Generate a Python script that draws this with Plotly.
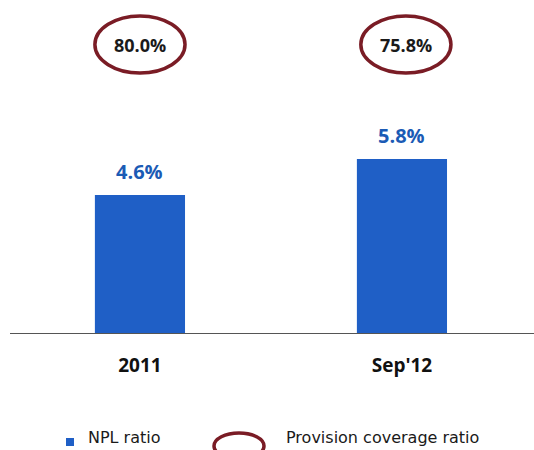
import plotly.graph_objects as go

categories = ["2011", "Sep'12"]
npl_ratio = [4.6, 5.8]
coverage_ratio = [80.0, 75.8]

BLUE = "#1F5FC6"
LABEL_BLUE = "#1B5BB5"
RED = "#7A1C25"
FONT = "Open Sans"
LEG_FONT = "DejaVu Sans"

W, H = 534, 450
ML, MR, MT, MB = 10, 0, 0, 117
PW = W - ML - MR
PH = H - MT - MB

def px_x(px):
    return (px - ML) / PW

def px_y(py):
    return (H - MB - py) / PH

fig = go.Figure()
fig.add_trace(go.Bar(
    x=categories, y=npl_ratio, width=0.344,
    marker=dict(color=BLUE, line=dict(width=0)),
    showlegend=False, hoverinfo="skip",
))

annotations = []
shapes = []
for i, (c, v, cov) in enumerate(zip(categories, npl_ratio, coverage_ratio)):
    annotations.append(dict(
        x=i, y=v, xref="x", yref="y", xanchor="center", yanchor="bottom", yshift=8,
        text=f"<b>{v:.1f}%</b>", showarrow=False,
        font=dict(family=FONT, size=20, color=LABEL_BLUE),
    ))
    cx = i + 0.015 * i
    shapes.append(dict(
        type="circle", xref="x", yref="paper",
        x0=cx - 0.172, x1=cx + 0.172, y0=px_y(73), y1=px_y(16),
        line=dict(color=RED, width=3.5), fillcolor="rgba(0,0,0,0)",
    ))
    annotations.append(dict(
        x=cx, y=px_y(45), xref="x", yref="paper", xanchor="center", yanchor="middle",
        text=f"<b>{cov:.1f}%</b>", showarrow=False,
        font=dict(family=FONT, size=18, color="#1a1a1a"),
    ))

# Legend
shapes.append(dict(
    type="rect", xref="paper", yref="paper",
    x0=px_x(66), x1=px_x(74), y0=px_y(446), y1=px_y(438),
    fillcolor=BLUE, line=dict(width=0),
))
shapes.append(dict(
    type="circle", xref="paper", yref="paper",
    x0=px_x(214), x1=px_x(264), y0=px_y(459), y1=px_y(433),
    line=dict(color=RED, width=3.5), fillcolor="rgba(0,0,0,0)",
))
annotations.append(dict(
    x=px_x(86), y=px_y(449), xref="paper", yref="paper",
    xanchor="left", yanchor="bottom", text="NPL ratio", showarrow=False,
    font=dict(family=LEG_FONT, size=16, color="#1a1a1a"),
))
annotations.append(dict(
    x=px_x(284), y=px_y(449), xref="paper", yref="paper",
    xanchor="left", yanchor="bottom", text="Provision coverage ratio", showarrow=False,
    font=dict(family=LEG_FONT, size=16, color="#1a1a1a"),
))

fig.update_layout(
    width=W, height=H,
    margin=dict(l=ML, r=MR, t=MT, b=MB, pad=0),
    paper_bgcolor="white", plot_bgcolor="white",
    showlegend=False,
    shapes=shapes, annotations=annotations,
    xaxis=dict(
        type="category", range=[-0.496, 1.504],
        showline=True, linecolor="#555555", linewidth=1,
        ticks="", showgrid=False, zeroline=False,
        tickmode="array", tickvals=categories,
        ticktext=[f"<b>{c}</b>" for c in categories],
        tickfont=dict(family=FONT, size=19, color="#111111"),
        ticklabelstandoff=15,
    ),
    yaxis=dict(range=[0, PH / 30.0], visible=False, showgrid=False, zeroline=False),
)

fig.write_html(
    "out.html",
    config={"displayModeBar": False},
    post_script="document.body.style.margin='0';document.body.style.overflow='hidden';",
)
